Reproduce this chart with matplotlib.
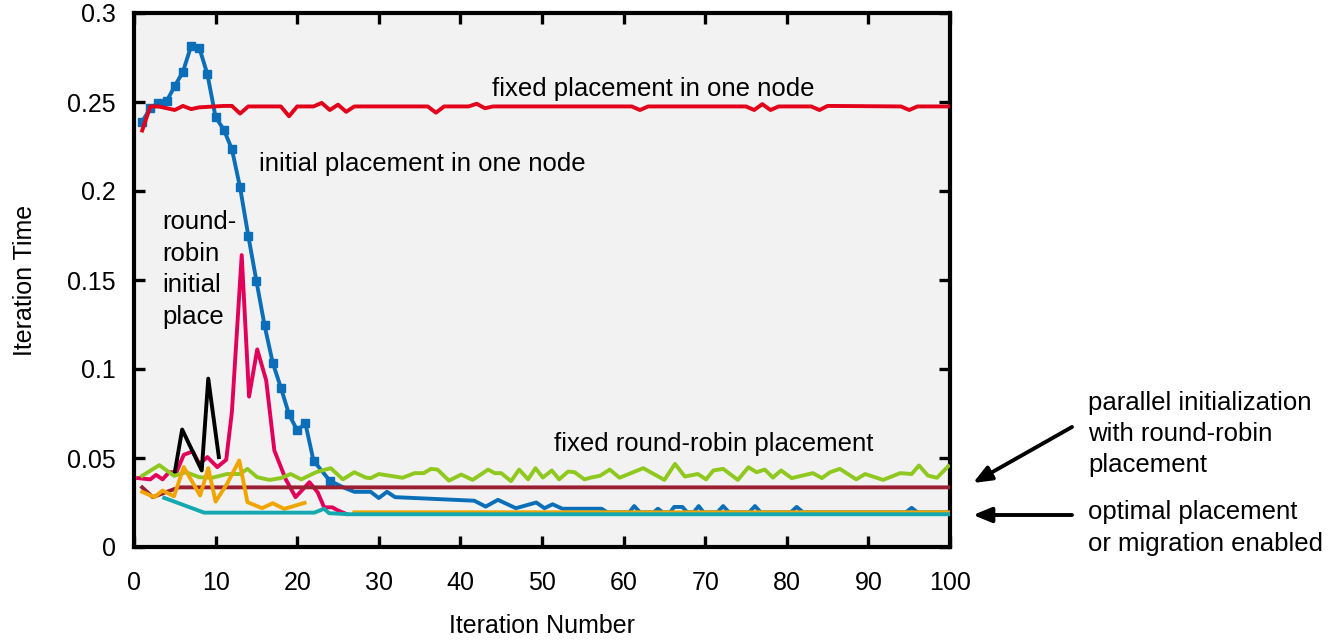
import matplotlib
matplotlib.use('Agg')
import matplotlib.pyplot as plt
import numpy as np

plt.rcParams['font.family'] = ['Liberation Sans', 'DejaVu Sans']

# fixed placement in one node
fixed_one_x = [1, 2, 3, 5, 6, 7, 8, 11, 12, 13, 14, 18, 19, 20, 22, 23, 24, 25, 26, 27,
               36, 37, 38, 41, 42, 43, 44, 61, 62, 63, 75, 76, 77, 78, 79, 83, 84, 85,
               94, 95, 96, 100]
fixed_one_y = [0.234, 0.2475, 0.2475, 0.2455, 0.2478, 0.246, 0.247, 0.2478, 0.2478, 0.2435,
               0.2475, 0.2475, 0.242, 0.2475, 0.2475, 0.2495, 0.2455, 0.2485, 0.2445, 0.2475,
               0.2475, 0.244, 0.2475, 0.2475, 0.249, 0.2465, 0.2475, 0.2475, 0.2455, 0.2475,
               0.2475, 0.2455, 0.2488, 0.2455, 0.2475, 0.2475, 0.2455, 0.2478,
               0.2475, 0.2455, 0.2475, 0.2475]

# initial placement in one node (markers on the first iterations)
init_one_x = [1, 2, 3, 4, 5, 6, 7, 8, 9, 10, 11, 12, 13, 14, 15, 16, 17, 18, 19, 20, 21, 22, 24,
              25.6, 27, 29, 30, 31, 32, 41.7, 43.1, 44.6, 46.8, 49.3, 50.3, 51.3, 52.5, 57.3,
              58, 60.7, 61.3, 62, 63.7, 64.2, 64.8, 65.7, 66.2, 67.2, 67.8, 68.6, 69.2, 69.8,
              71.5, 72.2, 72.9, 75.4, 76.1, 76.8, 80.5, 81.2, 82, 94.6, 95.3, 96, 100]
init_one_y = [0.239, 0.2465, 0.2495, 0.2505, 0.259, 0.267, 0.2815, 0.2805, 0.2655, 0.2415,
              0.2345, 0.2235, 0.202, 0.175, 0.1495, 0.1245, 0.1035, 0.0895, 0.0745, 0.0655,
              0.0695, 0.0485, 0.0372,
              0.0336, 0.031, 0.031, 0.0275, 0.031, 0.028, 0.026, 0.0227, 0.0265, 0.0218, 0.025,
              0.0218, 0.024, 0.0215, 0.0215, 0.0195, 0.0195, 0.023, 0.0195, 0.0195, 0.0215,
              0.0195, 0.0195, 0.0225, 0.0225, 0.0195, 0.0195, 0.023, 0.0195, 0.0195, 0.023,
              0.0195, 0.0195, 0.023, 0.0195, 0.0195, 0.0225, 0.0195, 0.0195, 0.022, 0.0195,
              0.0195]
init_one_marked = 23

# round-robin initial placement
rr_init_x = [0.5, 2, 2.7, 3.5, 4.3, 5.2, 6.1, 7.2, 8, 9, 10.2, 11.3, 12, 13.2, 14.1, 15.1,
             16.2, 17.2, 18.6, 19.8, 21.5, 22.5, 23.3, 24.3, 25, 26]
rr_init_y = [0.0387, 0.038, 0.0405, 0.038, 0.042, 0.042, 0.0518, 0.0537, 0.0467, 0.0505,
             0.0449, 0.049, 0.076, 0.164, 0.0845, 0.111, 0.0936, 0.0542, 0.038, 0.028, 0.0364,
             0.0308, 0.0223, 0.0223, 0.0205, 0.0186]

# black trace
black_x = [5, 5.9, 8.3, 9.1, 10.4]
black_y = [0.042, 0.066, 0.043, 0.0946, 0.0505]

# fixed round-robin placement
fixed_rr_x = [1, 3.1, 4.9, 6.4, 8, 9.6, 11.4, 13, 13.9, 15.1, 16.6, 18, 19.2, 20.5, 22.3, 24.1,
              25.6, 27, 28.4, 29, 30, 32.9, 34.4, 35.5, 36.4, 37.2, 38.6, 40.1, 41.5, 43.4,
              44.2, 45, 46.2, 47.2, 48.3, 49.2, 50.1, 51.2, 52.1, 53.2, 54, 55.2, 56, 57.1,
              58.3, 59.5, 62.4, 65, 66.3, 67.5, 69.1, 70.1, 71, 72.2, 74, 75.3, 76.3, 77.3,
              78.3, 79.3, 80.6, 83.2, 84.3, 85.3, 86.5, 88.5, 89.6, 91.8, 93.9, 95.3, 96.2,
              97.3, 98.4, 99.8]
fixed_rr_y = [0.040, 0.046, 0.040, 0.042, 0.0392, 0.0389, 0.041, 0.041, 0.0439, 0.0392,
              0.0377, 0.0387, 0.041, 0.038, 0.042, 0.0443, 0.038, 0.042, 0.039, 0.0387,
              0.041, 0.0389, 0.0415, 0.0415, 0.0439, 0.0435, 0.0373, 0.0407, 0.0377, 0.0435,
              0.0415, 0.0415, 0.037, 0.0435, 0.038, 0.0443, 0.039, 0.043, 0.038, 0.0424,
              0.042, 0.038, 0.039, 0.040, 0.0435, 0.0389, 0.0443, 0.0377, 0.0467, 0.0396,
              0.041, 0.038, 0.043, 0.0439, 0.0377, 0.0448, 0.042, 0.0435, 0.039, 0.043,
              0.0387, 0.0415, 0.0387, 0.042, 0.0439, 0.038, 0.041, 0.0377, 0.0415, 0.041,
              0.0458, 0.0401, 0.0389, 0.0454]

# parallel initialization with round-robin placement
par_init_x = [1, 2.3, 5.5, 100]
par_init_y = [0.0335, 0.028, 0.0335, 0.0335]

# optimal placement / migration enabled
optimal_x = [1, 2.5, 3.5, 4.9, 6.1, 8.1, 9.1, 10, 11.4, 12.9, 13.9, 15.7, 17, 18.4, 20.9,
             np.nan, 27, 100]
optimal_y = [0.031, 0.028, 0.0317, 0.0285, 0.0449, 0.0289, 0.0443, 0.0255, 0.0355, 0.0486,
             0.0252, 0.0218, 0.0246, 0.0214, 0.0248, np.nan, 0.0195, 0.0195]

migration_x = [3.7, 8.6, 22.1, 23.3, 23.9, 26.4, 100]
migration_y = [0.0276, 0.0193, 0.0193, 0.0215, 0.019, 0.0184, 0.0184]

W, H = 1337, 641
fig = plt.figure(figsize=(W / 100, H / 100), dpi=100)
ax = fig.add_axes([134 / W, 1 - 547 / H, (950 - 134) / W, (547 - 13) / H])
ax.set_facecolor('#f2f2f2')

lw = 2.8
ax.plot(init_one_x, init_one_y, color='#0a6fb8', lw=lw, marker='s', ms=6,
        markevery=list(range(init_one_marked)), zorder=2)
ax.plot(fixed_one_x, fixed_one_y, color='#e2001a', lw=lw, zorder=3)
ax.plot(rr_init_x, rr_init_y, color='#e2005a', lw=lw, zorder=3)
ax.plot(black_x, black_y, color='black', lw=lw, zorder=3)
ax.plot(fixed_rr_x, fixed_rr_y, color='#8fc81e', lw=lw, zorder=3)
ax.plot(par_init_x, par_init_y, color='#9b1f32', lw=lw, zorder=3)
ax.plot(optimal_x, optimal_y, color='#f0a500', lw=lw, zorder=4)
ax.plot(migration_x, migration_y, color='#14a8b0', lw=lw, zorder=5)

ax.set_xlim(0, 100)
ax.set_ylim(0, 0.3)
ax.set_xticks(range(0, 101, 10))
ax.set_yticks([0, 0.05, 0.1, 0.15, 0.2, 0.25, 0.3])
ax.set_yticklabels(['0', '0.05', '0.1', '0.15', '0.2', '0.25', '0.3'])
ax.tick_params(direction='in', length=8, width=2.4, labelsize=18, pad=13,
               top=True, right=True)
ax.tick_params(axis='x', pad=17)
for s in ax.spines.values():
    s.set_linewidth(3)

ax.set_xlabel('Iteration Number', fontsize=18, labelpad=14)
ax.set_ylabel('Iteration Time', fontsize=18, labelpad=22)

fs = 18.5
ax.text(63.6, 0.2573, 'fixed placement in one node', fontsize=fs, ha='center', va='center')
ax.text(35.3, 0.215, 'initial placement in one node', fontsize=fs, ha='center', va='center')
ax.text(3.5, 0.156, 'round-\nrobin\ninitial\nplace', fontsize=fs, ha='left', va='center',
        linespacing=1.4)
ax.text(71, 0.058, 'fixed round-robin placement', fontsize=fs, ha='center', va='center')

fig.text(1088 / W, 1 - 434 / H, 'parallel initialization\nwith round-robin\nplacement',
         fontsize=fs, ha='left', va='center', linespacing=1.38)
fig.text(1088 / W, 1 - 528 / H, 'optimal placement\nor migration enabled',
         fontsize=fs, ha='left', va='center', linespacing=1.38)

arrow = dict(arrowstyle='-|>,head_length=1.1,head_width=0.45', color='black', lw=2.8,
             shrinkA=0, shrinkB=0)
ax.annotate('', xy=(973 / W, 1 - 483 / H), xytext=(1072 / W, 1 - 427 / H),
            xycoords='figure fraction', textcoords='figure fraction', arrowprops=arrow)
ax.annotate('', xy=(973 / W, 1 - 515 / H), xytext=(1072 / W, 1 - 515 / H),
            xycoords='figure fraction', textcoords='figure fraction', arrowprops=arrow)

fig.savefig('out.png', dpi=100)
